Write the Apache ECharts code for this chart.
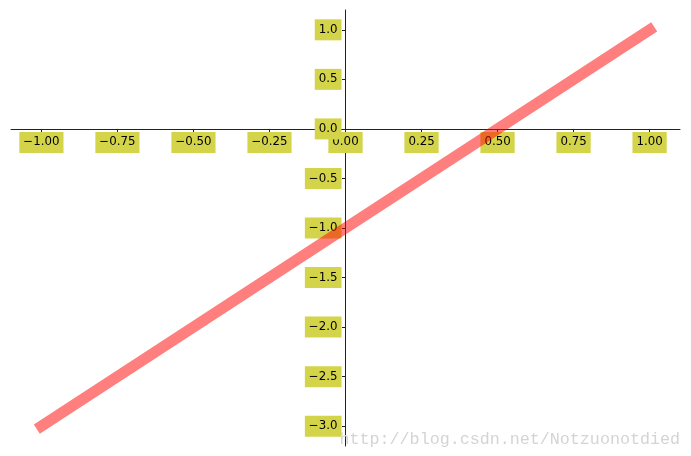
<!DOCTYPE html>
<html>
<head>
<meta charset="utf-8">
<script src="https://cdn.jsdelivr.net/npm/echarts@6/dist/echarts.min.js"></script>
<style>
html,body{margin:0;padding:0;background:#fff;}
#chart{width:691px;height:456px;}
</style>
</head>
<body>
<div id="chart"></div>
<script>
// data
var xValues = [-1.0, 1.0];
var yValues = [-3.0, 1.0];
var xTicks = [-1.0, -0.75, -0.5, -0.25, 0.0, 0.25, 0.5, 0.75, 1.0];
var yTicks = [-3.0, -2.5, -2.0, -1.5, -1.0, -0.5, 0.0, 0.5, 1.0];
var watermark = 'http://blog.csdn.net/Notzuonotdied';

function fmt(v, d) {
  var s = Math.abs(v).toFixed(d);
  return (v < 0 ? '\u2212' : '') + s;
}

var labelStyle = {
  show: true,
  fontFamily: 'DejaVu Sans',
  fontSize: 11.8,
  color: '#000',
  backgroundColor: '#d4d44a',
  padding: [4, 4, 4, 4],
  lineHeight: 13
};

var chart = echarts.init(document.getElementById('chart'), null, {renderer: 'canvas'});
chart.setOption({
  animation: false,
  grid: {left: 11, right: 11, top: 10, bottom: 10, containLabel: false, outerBoundsMode: 'none'},
  xAxis: {
    type: 'value', min: -1.1, max: 1.1,
    splitLine: {show: false},
    axisLine: {show: true, onZero: true, lineStyle: {color: '#222', width: 1}},
    axisTick: {show: true, length: 3.5, customValues: xTicks, lineStyle: {color: '#222'}},
    axisLabel: {show: false}
  },
  yAxis: {
    type: 'value', min: -3.2, max: 1.2,
    splitLine: {show: false},
    axisLine: {show: true, onZero: true, lineStyle: {color: '#222', width: 1}},
    axisTick: {show: true, length: 3.5, customValues: yTicks, lineStyle: {color: '#222'}},
    axisLabel: {show: false}
  },
  graphic: [{
    type: 'text', right: 11, bottom: 8, z: 100,
    style: {
      text: watermark,
      font: '16.7px "Liberation Mono"',
      fill: '#d4d4d4'
    }
  }],
  series: [{
    type: 'scatter', name: 'xlabels', z: 3, silent: true,
    symbolSize: 1, itemStyle: {color: 'rgba(0,0,0,0)', opacity: 1},
    data: xTicks.map(function (t) { return [t, 0]; }),
    label: Object.assign({position: 'bottom', distance: 2.5,
      formatter: function (p) { return fmt(p.value[0], 2); }}, labelStyle),
    labelLayout: {hideOverlap: false}
  }, {
    type: 'scatter', name: 'ylabels', z: 3, silent: true,
    symbolSize: 1, itemStyle: {color: 'rgba(0,0,0,0)', opacity: 1},
    data: yTicks.map(function (t) { return [0, t]; }),
    label: Object.assign({position: 'left', distance: 3.5,
      formatter: function (p) { return fmt(p.value[1], 1); }}, labelStyle),
    labelLayout: {hideOverlap: false}
  }, {
    type: 'line',
    data: xValues.map(function (x, i) { return [x, yValues[i]]; }),
    showSymbol: false, symbol: 'none',
    lineStyle: {color: 'red', opacity: 0.5, width: 11, cap: 'square'},
    z: 5
  }]
});
</script>
</body>
</html>
